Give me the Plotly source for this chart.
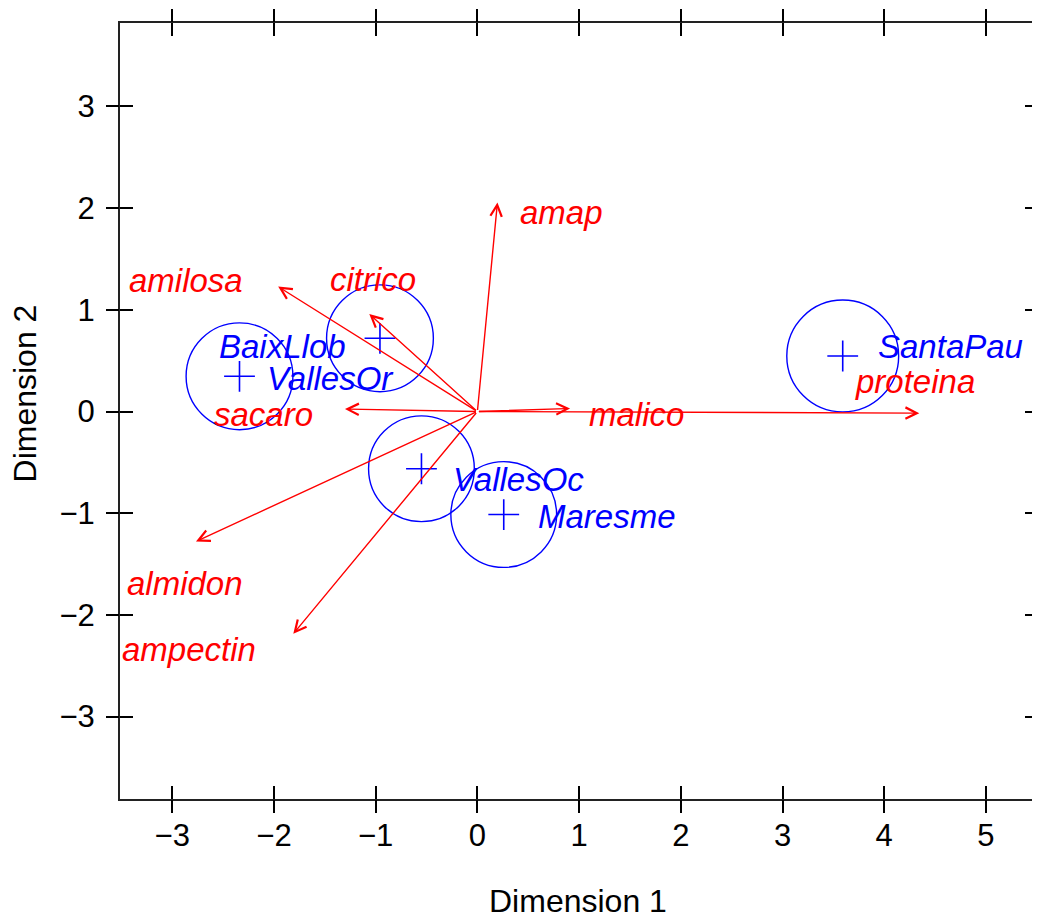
import plotly.graph_objects as go

# ---- data ----
var_names = ["amap", "amilosa", "citrico", "sacaro", "almidon", "ampectin", "malico", "proteina"]
var_x = [0.197, -1.959, -1.063, -1.302, -2.767, -1.810, 0.911, 4.345]
var_y = [2.055, 1.228, 0.958, 0.024, -1.278, -2.186, 0.030, -0.016]
var_label_x = [0.404, -3.445, -1.472, -2.613, -3.465, -3.514, 1.081, 3.689]
var_label_y = [1.954, 1.285, 1.295, -0.032, -1.694, -2.343, -0.032, 0.295]

site_names = ["BaixLlob", "VallesOr", "VallesOc", "Maresme", "SantaPau"]
site_x = [-0.958, -2.339, -0.550, 0.259, 3.592]
site_y = [0.720, 0.346, -0.563, -1.013, 0.546]
site_radius = [0.525, 0.525, 0.52, 0.52, 0.55]
site_label_x = [-2.562, -2.088, -0.255, 0.573, 3.922]
site_label_y = [0.636, 0.322, -0.672, -1.032, 0.639]

x_ticks = [-3, -2, -1, 0, 1, 2, 3, 4, 5]
y_ticks = [-3, -2, -1, 0, 1, 2, 3]
x_range = [-3.514, 5.512]
y_range = [-3.81, 3.82]
x_title = "Dimension 1"
y_title = "Dimension 2"

RED = "#FF0000"
BLUE = "#0000FF"
FONT = "Liberation Sans, Arial, Helvetica, sans-serif"


def fmt(v):
    return ("\u2212%d" % -v) if v < 0 else str(v)


fig = go.Figure()

fig.add_trace(go.Scatter(
    x=site_x, y=site_y, mode="markers",
    marker=dict(symbol="cross-thin", size=22, line=dict(color=BLUE, width=1.6)),
    hoverinfo="skip", showlegend=False,
))
# dummy trace for the overlay axes (outside ticks)
fig.add_trace(go.Scatter(x=[None], y=[None], xaxis="x2", yaxis="y2",
                         showlegend=False, hoverinfo="skip"))

shapes = []
for cx, cy, r in zip(site_x, site_y, site_radius):
    shapes.append(dict(type="circle", xref="x", yref="y",
                       x0=cx - r, x1=cx + r, y0=cy - r, y1=cy + r,
                       line=dict(color=BLUE, width=1.4)))

annotations = []
for vx, vy in zip(var_x, var_y):
    annotations.append(dict(x=vx, y=vy, ax=0, ay=0, xref="x", yref="y",
                            axref="x", ayref="y", text="", showarrow=True,
                            arrowhead=5, arrowsize=1.6, arrowwidth=1.4,
                            arrowcolor=RED))
for name, lx, ly in zip(var_names, var_label_x, var_label_y):
    annotations.append(dict(x=lx, y=ly, xref="x", yref="y", text="<i>%s</i>" % name,
                            showarrow=False, xanchor="left", yanchor="middle",
                            font=dict(family=FONT, size=33, color=RED)))
for name, lx, ly in zip(site_names, site_label_x, site_label_y):
    annotations.append(dict(x=lx, y=ly, xref="x", yref="y", text="<i>%s</i>" % name,
                            showarrow=False, xanchor="left", yanchor="middle",
                            font=dict(family=FONT, size=33, color=BLUE)))

# axis titles
annotations.append(dict(x=0.499, y=-0.131, xref="paper", yref="paper", text=x_title,
                        showarrow=False, xanchor="center", yanchor="middle",
                        font=dict(family=FONT, size=32, color="black")))
annotations.append(dict(x=-0.104, y=0.522, xref="paper", yref="paper", text=y_title,
                        showarrow=False, xanchor="center", yanchor="middle", textangle=-90,
                        font=dict(family=FONT, size=32, color="black")))

axis_common = dict(showgrid=False, zeroline=False, ticklen=13, tickwidth=1.5,
                   tickcolor="black", automargin=False)

# the page body has an 8px default margin, so the figure is sized to fit the window
fig.update_layout(
    width=1032, height=910,
    margin=dict(l=112, r=2, t=15, b=119),
    paper_bgcolor="white", plot_bgcolor="white",
    font=dict(family=FONT, color="black"),
    shapes=shapes, annotations=annotations,
    xaxis=dict(range=x_range, tickvals=x_ticks, ticktext=[fmt(v) for v in x_ticks],
               ticks="inside", mirror="ticks", showline=True, linecolor="#222",
               linewidth=2, tickfont=dict(size=31, color="black"),
               ticklabelstandoff=8, **axis_common),
    yaxis=dict(range=y_range, tickvals=y_ticks, ticktext=[fmt(v) for v in y_ticks],
               ticks="inside", mirror="ticks", showline=True, linecolor="#222",
               linewidth=2, tickfont=dict(size=31, color="black"),
               ticklabelstandoff=17, **axis_common),
    xaxis2=dict(range=x_range, tickvals=x_ticks, overlaying="x", anchor="y2",
                side="bottom", ticks="outside", mirror="ticks", showticklabels=False,
                showline=False, **axis_common),
    yaxis2=dict(range=y_range, tickvals=y_ticks, overlaying="y", anchor="x2",
                side="left", ticks="outside", mirror="ticks", showticklabels=False,
                showline=False, **axis_common),
    showlegend=False,
)

fig.write_html("out.html")
